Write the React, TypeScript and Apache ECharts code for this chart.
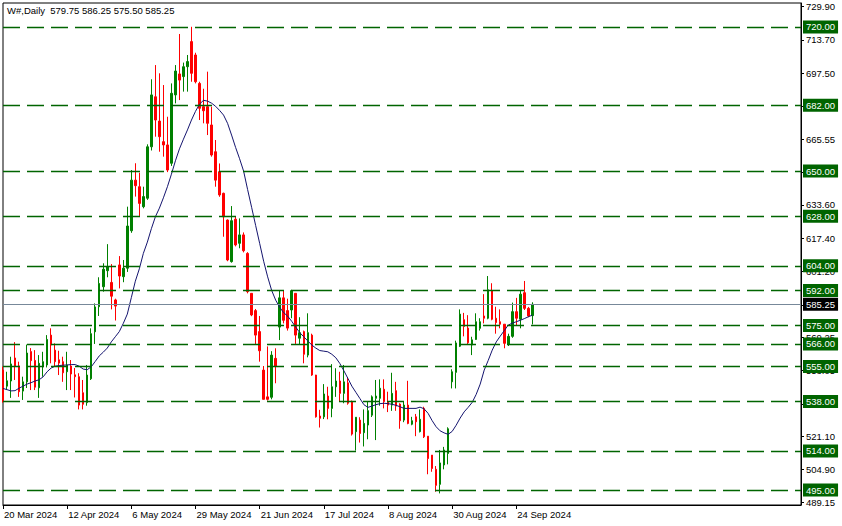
import React, { useEffect, useRef } from "react";
import * as echarts from "echarts";

// Trading days shown on the chart (month -> day numbers), 2024
const tradingMonths: [string, number[]][] = [
  ["Mar", [20, 21, 22, 25, 26, 27, 28]],
  ["Apr", [1, 2, 3, 4, 5, 8, 9, 10, 11, 12, 15, 16, 17, 18, 19, 22, 23, 24, 25, 26, 29, 30]],
  ["May", [1, 2, 3, 6, 7, 8, 9, 10, 13, 14, 15, 16, 17, 20, 21, 22, 23, 24, 28, 29, 30, 31]],
  ["Jun", [3, 4, 5, 6, 7, 10, 11, 12, 13, 14, 17, 18, 20, 21, 24, 25, 26, 27, 28]],
  ["Jul", [1, 2, 3, 8, 9, 10, 11, 12, 15, 16, 17, 18, 19, 22, 23, 24, 25, 26, 29, 30, 31]],
  ["Aug", [1, 2, 5, 6, 7, 8, 9, 12, 13, 14, 15, 16, 19, 20, 21, 22, 23, 26, 27, 28, 29, 30]],
  ["Sep", [3, 4, 5, 6, 9, 10, 11, 12, 13, 16, 17, 18, 19, 20, 23, 24, 25, 26, 27, 30]],
];
const dates: string[] = tradingMonths.flatMap(([m, days]) => days.map((d) => `${d} ${m} 2024`));

const opens = [
  553.3, 545.5, 548, 559.2, 555.3, 543.1, 547.6, 562.3, 558, 544.7,
  554.9, 555.8, 570.3, 563, 558.3, 557.4, 552.5, 555.3, 551, 550.1,
  542.3, 537.5, 549.1, 571.9, 584.1, 593.8, 601.6, 595.9, 587.4, 604.4,
  598.7, 602.8, 621, 645.6, 642.4, 632.7, 636.8, 661.8, 686.1, 674.3,
  664.3, 662.7, 653.8, 687, 697.2, 695.9, 700.7, 712.9, 706.4, 692.6,
  681.3, 681.3, 672.4, 659.4, 649.7, 639.2, 626.2, 606, 626.6, 614.9,
  619, 610, 590.6, 582.2, 572, 553.3, 540.3, 540.1, 559, 574.2,
  588.4, 582.2, 582.5, 590.6, 568.8, 572, 560.6, 570.3, 550.9, 531,
  530.6, 540.7, 534.7, 545.2, 548, 542, 547.1, 538, 523.4, 529,
  522.9, 526.6, 531.4, 539.6, 539.6, 544, 538, 536.3, 543.3, 536.8,
  529, 536.3, 527, 530.6, 523.4, 534.7, 521.2, 512, 505.1, 497.8,
  507.2, 512.8, 547.6, 552.2, 564.9, 577.8, 573.7, 565.5, 568.2, 573.6,
  579.6, 578.5, 591.9, 578.5, 576.8, 575.6, 565.8, 569.7, 581.7, 578,
  590.9, 583.3, 579.75,
];
const highs = [
  555, 552.5, 559.8, 566.9, 557.4, 550.1, 565.7, 564, 563, 560.6,
  562.2, 570.3, 573.6, 566.3, 562.7, 559.8, 562.2, 558.2, 554.3, 551.8,
  548.5, 555.8, 573.6, 585.7, 598.4, 605.2, 614.5, 604.8, 588, 608.7,
  606.8, 632.7, 650.5, 653.8, 649.2, 642.4, 663, 694.6, 701.5, 697.5,
  691.8, 676.4, 692.6, 701.5, 716.6, 702.7, 706.4, 720.1, 707.5, 693.4,
  690, 698.3, 681.3, 665.1, 653.7, 639.5, 626.5, 633, 627.8, 627,
  620.2, 610.6, 590.6, 583, 579.6, 555.3, 564.8, 562.5, 563.9, 591.9,
  591.9, 588, 592.3, 590.6, 579, 572.5, 580.9, 571, 551, 534,
  546.5, 545.2, 556.2, 554.2, 552.5, 555.8, 549.8, 538.5, 530.5, 530.4,
  534.2, 538, 541, 548.5, 548.8, 548.8, 542.8, 552, 547.6, 537.2,
  538, 548.1, 530.6, 532, 534.2, 535.5, 521.2, 512, 506.7, 514.5,
  516, 525.5, 553.7, 567.6, 582.8, 581.1, 580, 569.5, 580.9, 578.5,
  590.2, 599, 595.5, 584.1, 582.8, 575.6, 571, 586.1, 588.4, 591.7,
  596.6, 584, 586.25,
];
const lows = [
  537.5, 543.6, 539.8, 548.5, 540.3, 538.8, 544.6, 543.6, 543.6, 539.8,
  550.1, 554.6, 556.6, 554.9, 550.9, 547.6, 543.6, 543.6, 540, 534.2,
  534.2, 536, 548.5, 566, 579.6, 591.4, 598.4, 582.8, 577.4, 593,
  596, 601, 620, 637.6, 628.2, 631.9, 636, 660, 666.7, 659.4,
  657, 649.5, 652.5, 682.9, 684.5, 688.6, 688.6, 693.4, 692.6, 674.8,
  673.2, 667.5, 657, 642.4, 637.5, 618.1, 606.2, 605.5, 613.4, 612.5,
  610.5, 590.6, 579.5, 565.5, 557.4, 539.1, 538.5, 539.1, 546.9, 567.9,
  576, 572.5, 578.5, 566, 565.5, 556.6, 559.5, 550.5, 530.2, 525.4,
  529.5, 529.4, 530.4, 540.3, 538, 537.2, 536.5, 521.5, 514.2, 518.1,
  516.2, 519.7, 530.5, 519.3, 536, 534.7, 532.9, 533.5, 533.5, 524.8,
  528, 527, 526.5, 521.2, 523, 520.3, 502.7, 503.9, 494.2, 493.4,
  505.1, 507.5, 544.4, 544.4, 564.5, 569.7, 566, 560.6, 568, 572.5,
  576, 578, 577.5, 571, 573.6, 563.9, 565, 569, 575, 573.6,
  582.5, 579, 575.5,
];
const closes = [
  538.3, 548.1, 556.3, 555.3, 542.8, 547.6, 561.6, 557.9, 545, 556.6,
  557.4, 568.2, 565.5, 557.4, 556.7, 552, 555.8, 551.4, 550.1, 536.3,
  536.7, 550.9, 571, 584, 595.4, 602.3, 603.6, 589.2, 584.4, 599,
  602.8, 623.3, 645.6, 642.9, 634.3, 637.6, 661.8, 687, 674.8, 666.7,
  662.7, 650.5, 687.8, 698.6, 694.2, 700.7, 703.2, 697.5, 693.4, 680.5,
  679.3, 673.2, 657.8, 645.6, 638.4, 627.8, 606.8, 625.9, 614.1, 619,
  611.3, 591.4, 580.1, 570.3, 562.7, 539.1, 539.1, 560.6, 555.3, 588.4,
  577.5, 573.7, 591.9, 570.3, 571.5, 561, 571.5, 550.9, 530.6, 529.9,
  541.7, 534.7, 545.2, 548, 542, 547.6, 537.2, 522.2, 530.4, 522.5,
  527.4, 533.6, 540.3, 540.7, 544.5, 538, 536.3, 542, 535.8, 528.7,
  536.3, 527.4, 528.7, 528.2, 529.4, 520.9, 510.3, 505.5, 497.3, 508.2,
  514.5, 524.8, 552.5, 566.5, 580.5, 574.5, 566.6, 568, 576.8, 576.8,
  578.5, 592.3, 578, 576.4, 575.6, 566.3, 569.7, 581.7, 578.5, 590.2,
  583.3, 579.6, 585.25,
];
// Moving average as drawn on the chart
const maValues = [
  544.4, 543.8, 543.2, 543.3, 544.5, 545.5, 546.5, 547.2, 548, 548.6,
  550, 552.5, 554.3, 555.2, 555.5, 555.7, 555.8, 556, 556, 555.2,
  553.8, 553.5, 554.9, 557.5, 560.2, 562, 564, 567, 569.5, 572,
  576, 580.5, 588.5, 596.5, 602.5, 610, 615.5, 622, 627.8, 632,
  637, 642.4, 648.5, 655, 660.8, 665.5, 670, 674.8, 679, 682.5,
  684.4, 684, 683, 681.5, 679.5, 677.2, 673.2, 667.5, 661.5, 656,
  650, 641, 632.4, 623.6, 614.9, 606.2, 598.6, 592, 587.3, 583.8,
  581.2, 579.5, 577, 574.2, 571.5, 569.5, 567.5, 565.5, 564, 562.8,
  562.5, 562.2, 561, 559.3, 556.5, 553, 549.3, 545.5, 542.5, 539.5,
  536.5, 535.2, 535.8, 536.5, 537, 537.2, 537, 536.7, 536.2, 535.5,
  534.7, 534.7, 534.7, 534.7, 535.3, 534.5, 532.3, 528.8, 525.8, 523.8,
  522.8, 522.1, 523.5, 526.5, 530, 533, 535.2, 537.6, 541.5, 546.5,
  553.3, 558, 563, 567, 569.8, 572.5, 575.2, 576.1, 576.8, 577.5,
  578.3, 579.2, 580,
];

const levels = [720, 682, 650, 628, 604, 592, 575, 566, 555, 538, 514, 495];
const lastPrice = 585.25;
const yTickValues = [
  729.9, 713.7, 697.5, 681.3, 665.55, 649.35, 633.6, 617.4, 601.2, 585.0,
  569.25, 553.05, 536.85, 521.1, 504.9, 489.15,
];
const headerText = "W#,Daily  579.75 586.25 575.50 585.25";

const TOTAL_SLOTS = 200;
const FONT = "Liberation Sans, Arial, sans-serif";
const LEVEL_GREEN = "#006400";

export default function App() {
  const ref = useRef<HTMLDivElement>(null);

  useEffect(() => {
    if (!ref.current) return;
    const chart = echarts.init(ref.current, null, { renderer: "svg" });
    const cats = dates.concat(new Array(TOTAL_SLOTS - dates.length).fill(""));
    const candles = dates.map((_, i) => [opens[i], closes[i], lows[i], highs[i]]);
    const showAt = (idx: number, val: string) => idx % 16 === 0 && val !== "";

    const levelLines = levels.map((v) => ({
      yAxis: v,
      lineStyle: { type: [17, 7], color: LEVEL_GREEN, width: 1.3 },
      label: {
        show: true,
        position: "end",
        distance: 2,
        formatter: () => v.toFixed(2),
        color: "#fff",
        backgroundColor: LEVEL_GREEN,
        padding: [2, 3, 1, 3],
        fontSize: 9.5,
        fontFamily: FONT,
      },
    }));

    chart.setOption({
      animation: false,
      backgroundColor: "#fff",
      title: {
        text: headerText,
        left: 7,
        top: 5,
        padding: 0,
        textStyle: { fontSize: 9.5, fontWeight: "normal", color: "#000", fontFamily: FONT },
      },
      grid: {
        left: 3,
        right: 41,
        top: 3,
        bottom: 21,
        show: true,
        borderColor: "#000",
        borderWidth: 1,
        backgroundColor: "#fff",
      },
      xAxis: {
        type: "category",
        data: cats,
        boundaryGap: false,
        axisLine: { show: true, lineStyle: { color: "#000", width: 1 } },
        axisTick: { show: true, interval: showAt, length: 4, lineStyle: { color: "#000" } },
        axisLabel: {
          interval: showAt,
          align: "left",
          margin: 4,
          padding: [0, 0, 0, 1],
          color: "#000",
          fontSize: 9.5,
          fontFamily: FONT,
        },
        splitLine: { show: false },
      },
      yAxis: {
        type: "value",
        position: "right",
        min: 487.76,
        max: 731.66,
        scale: true,
        splitLine: { show: false },
        axisLine: { show: true, lineStyle: { color: "#000", width: 1 } },
        axisTick: {
          show: true,
          customValues: yTickValues,
          length: 3,
          lineStyle: { color: "#000" },
        },
        axisLabel: {
          customValues: yTickValues,
          formatter: (v: number) => v.toFixed(2),
          margin: 5,
          color: "#000",
          fontSize: 9.5,
          fontFamily: FONT,
        },
      },
      series: [
        {
          type: "candlestick",
          name: "W#",
          data: candles,
          barWidth: 2,
          clip: true,
          itemStyle: {
            color: "#008000",
            color0: "#ff0000",
            borderColor: "#008000",
            borderColor0: "#ff0000",
            borderWidth: 1,
          },
          markLine: {
            silent: true,
            symbol: ["none", "none"],
            animation: false,
            data: [
              ...levelLines,
              {
                yAxis: lastPrice,
                lineStyle: { type: "solid", color: "#778899", width: 1 },
                label: {
                  show: true,
                  position: "end",
                  distance: 2,
                  formatter: () => lastPrice.toFixed(2),
                  color: "#fff",
                  backgroundColor: "#000",
                  padding: [2, 3, 1, 3],
                  fontSize: 9.5,
                  fontFamily: FONT,
                },
              },
            ],
          },
        },
        {
          type: "line",
          name: "MA",
          data: maValues,
          showSymbol: false,
          symbol: "none",
          clip: true,
          lineStyle: { color: "#14146e", width: 1 },
          z: 3,
        },
      ],
    });

    return () => chart.dispose();
  }, []);

  return (
    <div
      ref={ref}
      style={{ position: "absolute", left: 0, top: 0, width: 842, height: 526, background: "#fff" }}
    />
  );
}
